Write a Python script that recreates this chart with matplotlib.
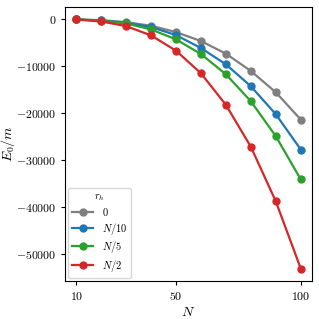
import numpy as np
import matplotlib
matplotlib.use('Agg')
import matplotlib.pyplot as plt
from matplotlib.ticker import FuncFormatter

plt.rcParams['mathtext.fontset'] = 'cm'
plt.rcParams['font.family'] = 'serif'
plt.rcParams['font.serif'] = ['DejaVu Serif']

# system sizes
N = [10, 20, 30, 40, 50, 60, 70, 80, 90, 100]

# ground state energy E0/m for each r_h
E_0 = [0, -142, -567, -1348, -2695, -4610, -7305, -10993, -15532, -21348]
E_N10 = [0, -213, -709, -1631, -3333, -6099, -9574, -14255, -20213, -27730]
E_N5 = [0, -284, -851, -2128, -4255, -7376, -11702, -17447, -24894, -34113]
E_N2 = [0, -426, -1418, -3404, -6667, -11489, -18227, -27163, -38794, -53121]

labels = [r'$0$', r'$N/10$', r'$N/5$', r'$N/2$']
colors = ['tab:gray', 'tab:blue', 'tab:green', 'tab:red']

fig = plt.figure(figsize=(3.19, 3.19), dpi=100)
ax = fig.add_axes([0.204, 0.119, 0.774, 0.859])

for E, lab, c in zip([E_0, E_N10, E_N5, E_N2], labels, colors):
    ax.plot(N, E, '-o', color=c, label=lab, lw=1.6, ms=5)

ax.set_xticks([10, 50, 100])
ax.set_yticks([0, -10000, -20000, -30000, -40000, -50000])
ax.xaxis.set_major_formatter(FuncFormatter(lambda v, p: r'$%d$' % v))
ax.yaxis.set_major_formatter(FuncFormatter(lambda v, p: r'$%d$' % v))
ax.tick_params(labelsize=8.5, length=3)

ax.set_xlabel(r'$N$', fontsize=10)
ax.set_ylabel(r'$E_0/m$', fontsize=10)
ax.xaxis.set_label_coords(0.498, -0.088)
ax.yaxis.set_label_coords(-0.195, 0.5)

leg = ax.legend(title=r'$r_h$', loc='lower left', fontsize=7.5, title_fontsize=7.5,
                labelspacing=0.25, borderaxespad=0.3, handlelength=2.0)

fig.savefig('out.png', dpi=100)
